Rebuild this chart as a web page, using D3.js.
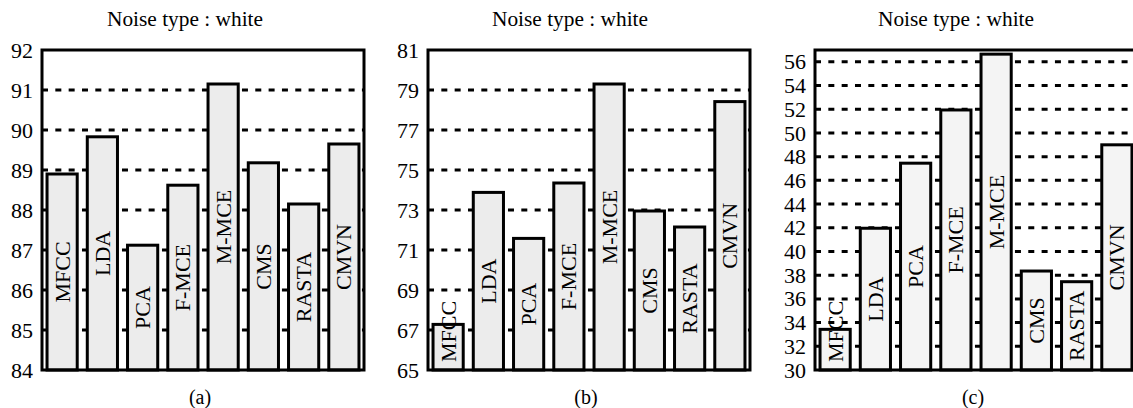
<!DOCTYPE html>
<html>
<head>
<meta charset="utf-8">
<script src="https://cdn.jsdelivr.net/npm/d3@7"></script>
<style>
  html, body { margin: 0; padding: 0; background: #fff; }
  svg { display: block; }
  text { font-family: "Liberation Serif", "Times New Roman", serif; fill: #000; }
</style>
</head>
<body>
<svg id="chart" width="1133" height="408"></svg>
<script>
// Feature extraction methods compared in each panel
const methods = ["MFCC", "LDA", "PCA", "F-MCE", "M-MCE", "CMS", "RASTA", "CMVN"];

// Recognition accuracy (%) under white noise, one array per panel
const accuracyA = [88.9, 89.83, 87.12, 88.62, 91.15, 89.18, 88.15, 89.65];
const accuracyB = [67.28, 73.88, 71.58, 74.35, 79.3, 72.95, 72.15, 78.42];
const accuracyC = [33.43, 41.96, 47.45, 51.94, 56.65, 38.35, 37.45, 49.0];

// Y-axis tick values per panel
const ticksA = [84, 85, 86, 87, 88, 89, 90, 91, 92];
const ticksB = [65, 67, 69, 71, 73, 75, 77, 79, 81];
const ticksC = [30, 32, 34, 36, 38, 40, 42, 44, 46, 48, 50, 52, 54, 56];

const titleText = "Noise type : white";
const captions = ["(a)", "(b)", "(c)"];

const panels = [
  { values: accuracyA, ticks: ticksA, domain: [84, 92], left: 42, right: 364, titleX: 185, fill: "#ececec" },
  { values: accuracyB, ticks: ticksB, domain: [65, 81], left: 428, right: 750, titleX: 570, fill: "#ececec" },
  { values: accuracyC, ticks: ticksC, domain: [30, 57], left: 815, right: 1137, titleX: 956, fill: "#f4f4f4" }
];

const plotTop = 50, plotBottom = 370;
const svg = d3.select("#chart");

panels.forEach((p, i) => {
  const g = svg.append("g");
  const x = d3.scaleBand().domain(methods).range([p.left, p.right])
    .paddingInner(0.25).paddingOuter(0.125);
  const y = d3.scaleLinear().domain(p.domain).range([plotBottom, plotTop]);

  // Title
  g.append("text")
    .attr("x", p.titleX).attr("y", 26)
    .attr("text-anchor", "middle")
    .attr("font-size", 20)
    .attr("textLength", 156).attr("lengthAdjust", "spacingAndGlyphs")
    .text(titleText);

  // Dashed grid lines at interior ticks
  const inner = p.ticks.filter(t => t > p.domain[0] && t < p.domain[1]);
  g.append("g").selectAll("line").data(inner).join("line")
    .attr("x1", p.left).attr("x2", p.right)
    .attr("y1", d => y(d)).attr("y2", d => y(d))
    .attr("stroke", "#000").attr("stroke-width", 3)
    .attr("stroke-dasharray", "6,7.33");

  // Y axis labels
  const axis = d3.axisLeft(y).tickValues(p.ticks).tickSize(0).tickPadding(9)
    .tickFormat(d3.format("d"));
  const ax = g.append("g").attr("transform", `translate(${p.left},0)`).call(axis);
  ax.select(".domain").remove();
  ax.selectAll("text")
    .attr("font-size", 22)
    .attr("font-family", "Liberation Serif, Times New Roman, serif")
    .attr("fill", "#000");

  // Bars
  g.append("g").selectAll("rect").data(p.values).join("rect")
    .attr("x", (d, j) => x(methods[j]))
    .attr("width", x.bandwidth())
    .attr("y", d => y(d))
    .attr("height", d => plotBottom - y(d))
    .attr("fill", p.fill)
    .attr("stroke", "#000").attr("stroke-width", 3);

  // Rotated method names inside bars, centred vertically, kept above the baseline
  const labels = g.append("g").selectAll("text").data(p.values).join("text")
    .attr("font-size", 22)
    .attr("text-anchor", "middle")
    .attr("dominant-baseline", "central")
    .text((d, j) => methods[j]);
  labels.each(function (d, j) {
    const len = this.getComputedTextLength();
    let cy = (y(d) + plotBottom) / 2;
    cy = Math.min(cy, plotBottom - 8 - len / 2);
    const cx = x(methods[j]) + x.bandwidth() / 2;
    d3.select(this).attr("transform", `translate(${cx},${cy}) rotate(-90)`);
  });

  // Frame
  g.append("rect")
    .attr("x", p.left).attr("y", plotTop)
    .attr("width", p.right - p.left).attr("height", plotBottom - plotTop)
    .attr("fill", "none").attr("stroke", "#000").attr("stroke-width", 3);

  // Caption
  g.append("text")
    .attr("x", (p.left + p.right) / 2 - 3).attr("y", 404)
    .attr("text-anchor", "middle")
    .attr("font-size", 20)
    .text(captions[i]);
});
</script>
</body>
</html>
